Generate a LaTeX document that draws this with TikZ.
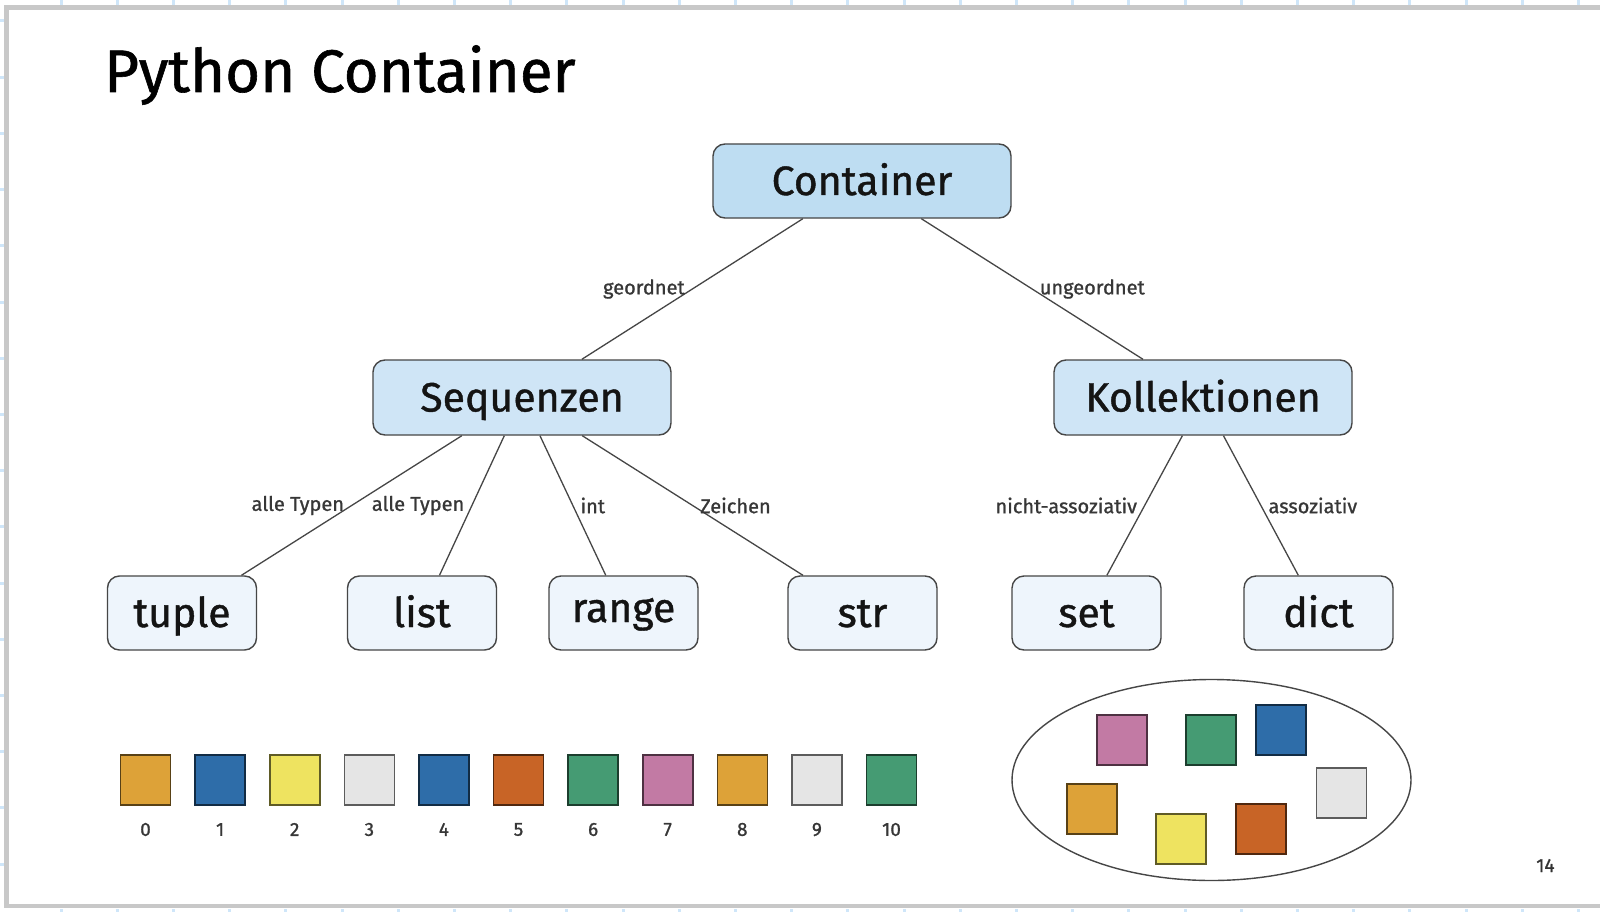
\documentclass[tikz,border=0pt]{standalone}
\usepackage{fontspec}
\setmainfont[FakeBold=1.0]{Fira Sans}
\usetikzlibrary{shapes.geometric}
\definecolor{boxline}{RGB}{70,70,70}
\definecolor{edgecol}{RGB}{70,70,70}
\definecolor{lblcol}{RGB}{55,55,55}
\definecolor{topfill}{RGB}{190,221,242}
\definecolor{midfill}{RGB}{207,229,246}
\definecolor{leaffill}{RGB}{238,245,252}
\definecolor{sqOrange}{RGB}{221,162,56}
\definecolor{sqBlue}{RGB}{46,109,169}
\definecolor{sqYellow}{RGB}{238,227,96}
\definecolor{sqGray}{RGB}{229,229,229}
\definecolor{sqRed}{RGB}{200,100,38}
\definecolor{sqGreen}{RGB}{69,155,115}
\definecolor{sqPink}{RGB}{194,122,164}
\definecolor{framecol}{RGB}{200,200,200}
\definecolor{tickcol}{RGB}{207,230,249}
\tikzset{
  box/.style={draw=boxline, line width=1.4pt, rounded corners=12pt, inner sep=0pt,
    text height=28pt, text depth=0pt, font=\fontsize{41}{41}\selectfont, text=black!92},
  topbox/.style={box, fill=topfill, minimum width=298pt, minimum height=74pt},
  midbox/.style={box, fill=midfill, minimum width=298pt, minimum height=75pt},
  leaf/.style={box, fill=leaffill, minimum width=149pt, minimum height=74pt},
  edge/.style={draw=edgecol, line width=1.3pt},
  lblL/.style={pos=.5, anchor=east, inner xsep=7pt, inner ysep=0pt, text=lblcol,
    font=\fontsize{20}{20}\selectfont},
  lblR/.style={pos=.5, anchor=west, inner xsep=7pt, inner ysep=0pt, text=lblcol,
    font=\fontsize{20}{20}\selectfont},
  sq/.style={minimum size=50pt, inner sep=0pt, line width=1.6pt, draw=#1!40!black, fill=#1},
  num/.style={inner sep=0pt, text=lblcol, font=\fontsize{19}{19}\selectfont}
}
\begin{document}
\begin{tikzpicture}[x=1pt, y=-1pt]
\useasboundingbox (0,0) rectangle (1600,912);
\fill[white] (0,0) rectangle (1600,912);
% grid ticks outside the slide
\foreach \k in {0,...,27} {
  \fill[tickcol] ({61+56.2*\k-1.5},0) rectangle ({61+56.2*\k+1.5},5);
  \fill[tickcol] ({61+56.2*\k-1.5},908.5) rectangle ({61+56.2*\k+1.5},912);
}
\foreach \k in {0,...,15} {
  \fill[tickcol] (0,{21+56.2*\k-1.5}) rectangle (4.5,{21+56.2*\k+1.5});
}
% slide frame
\draw[framecol, line width=4.5pt] (1600,7.5) -- (6.5,7.5) -- (6.5,906) -- (1600,906);

% title and page number
\node[anchor=base west, inner sep=0pt, font=\fontsize{60}{60}\selectfont] (title) at (104,92) {Python Container};
\node[anchor=base west, inner sep=0pt, text=black!80, font=\fontsize{19}{19}\selectfont] (page) at (1536,872) {14};

% tree
\node[topbox] (C) at (862,181) {Container};
\node[midbox] (S) at (522,397.5) {Sequenzen};
\node[midbox] (K) at (1203,397.5) {Kollektionen};
\node[leaf] (tuple) at (182,613) {tuple};
\node[leaf] (list) at (422,613) {list};
\node[leaf, text depth=10pt] (range) at (623.5,613) {range};
\node[leaf] (str) at (862.5,613) {str};
\node[leaf] (set) at (1086.5,613) {set};
\node[leaf] (dict) at (1318.5,613) {dict};

\draw[edge] (C) -- node[lblL]{geordnet} (S);
\draw[edge] (C) -- node[lblR]{ungeordnet} (K);
\draw[edge] (S) -- node[lblL]{alle Typen} (tuple);
\draw[edge] (S) -- node[lblL]{alle Typen} (list);
\draw[edge] (S) -- node[lblR]{int} (range);
\draw[edge] (S) -- node[lblR]{Zeichen} (str);
\draw[edge] (K) -- node[lblL]{nicht-assoziativ} (set);
\draw[edge] (K) -- node[lblR]{assoziativ} (dict);

% sequence of squares with indices
\foreach \c [count=\i from 0] in {sqOrange,sqBlue,sqYellow,sqGray,sqBlue,sqRed,sqGreen,sqPink,sqOrange,sqGray,sqGreen} {
  \node[sq=\c] (q\i) at ({145.5+74.6*\i},780) {};
  \node[num] (n\i) at ({145.5+74.6*\i},829.5) {\i};
}

% unordered collection
\node[draw=edgecol, line width=1.4pt, ellipse, minimum width=399pt, minimum height=201pt, inner sep=0pt] (E) at (1211.5,780) {};
\node[sq=sqPink] (e1) at (1122,740) {};
\node[sq=sqGreen] (e2) at (1211,740) {};
\node[sq=sqBlue] (e3) at (1281,730) {};
\node[sq=sqGray] (e4) at (1341.5,793) {};
\node[sq=sqOrange] (e5) at (1092,809) {};
\node[sq=sqYellow] (e6) at (1181,839) {};
\node[sq=sqRed] (e7) at (1261,829) {};
\end{tikzpicture}
\end{document}
